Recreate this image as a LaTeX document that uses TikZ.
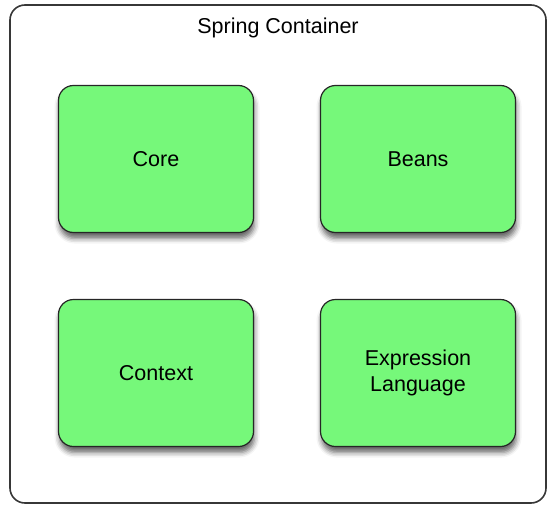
\documentclass[tikz,border=0pt]{standalone}
\usepackage{fontspec}
\setmainfont{Liberation Sans}
\usetikzlibrary{shadows.blur}
\definecolor{modgreen}{RGB}{118,248,122}
\definecolor{edgegray}{RGB}{55,55,55}
\begin{document}
\begin{tikzpicture}[x=1pt,y=1pt]
            \tikzstyle{every node}+=[font=\fontsize{21.5}{26}\selectfont]
            \tikzstyle{module}=[draw=black!85, line width=1.2pt, fill=modgreen, rounded corners=15pt,
                minimum width=195pt, minimum height=147pt, align=center,
                blur shadow={shadow xshift=1pt, shadow yshift=-6pt, shadow blur radius=5pt, shadow opacity=60}]
            \useasboundingbox (0,0) rectangle (548,-506);
            \draw [edgegray, line width=1.6pt, rounded corners=15pt] (10,-5) rectangle (546,-503);
            \node (title) at (278,-28) {Spring Container};
            \node [module] (core) at (156,-159) {Core};
            \node [module] (beans) at (418,-159) {Beans};
            \node [module] (context) at (156,-373) {Context};
            \node [module] (expr) at (418,-373) {Expression\\Language};
        \end{tikzpicture}
\end{document}
